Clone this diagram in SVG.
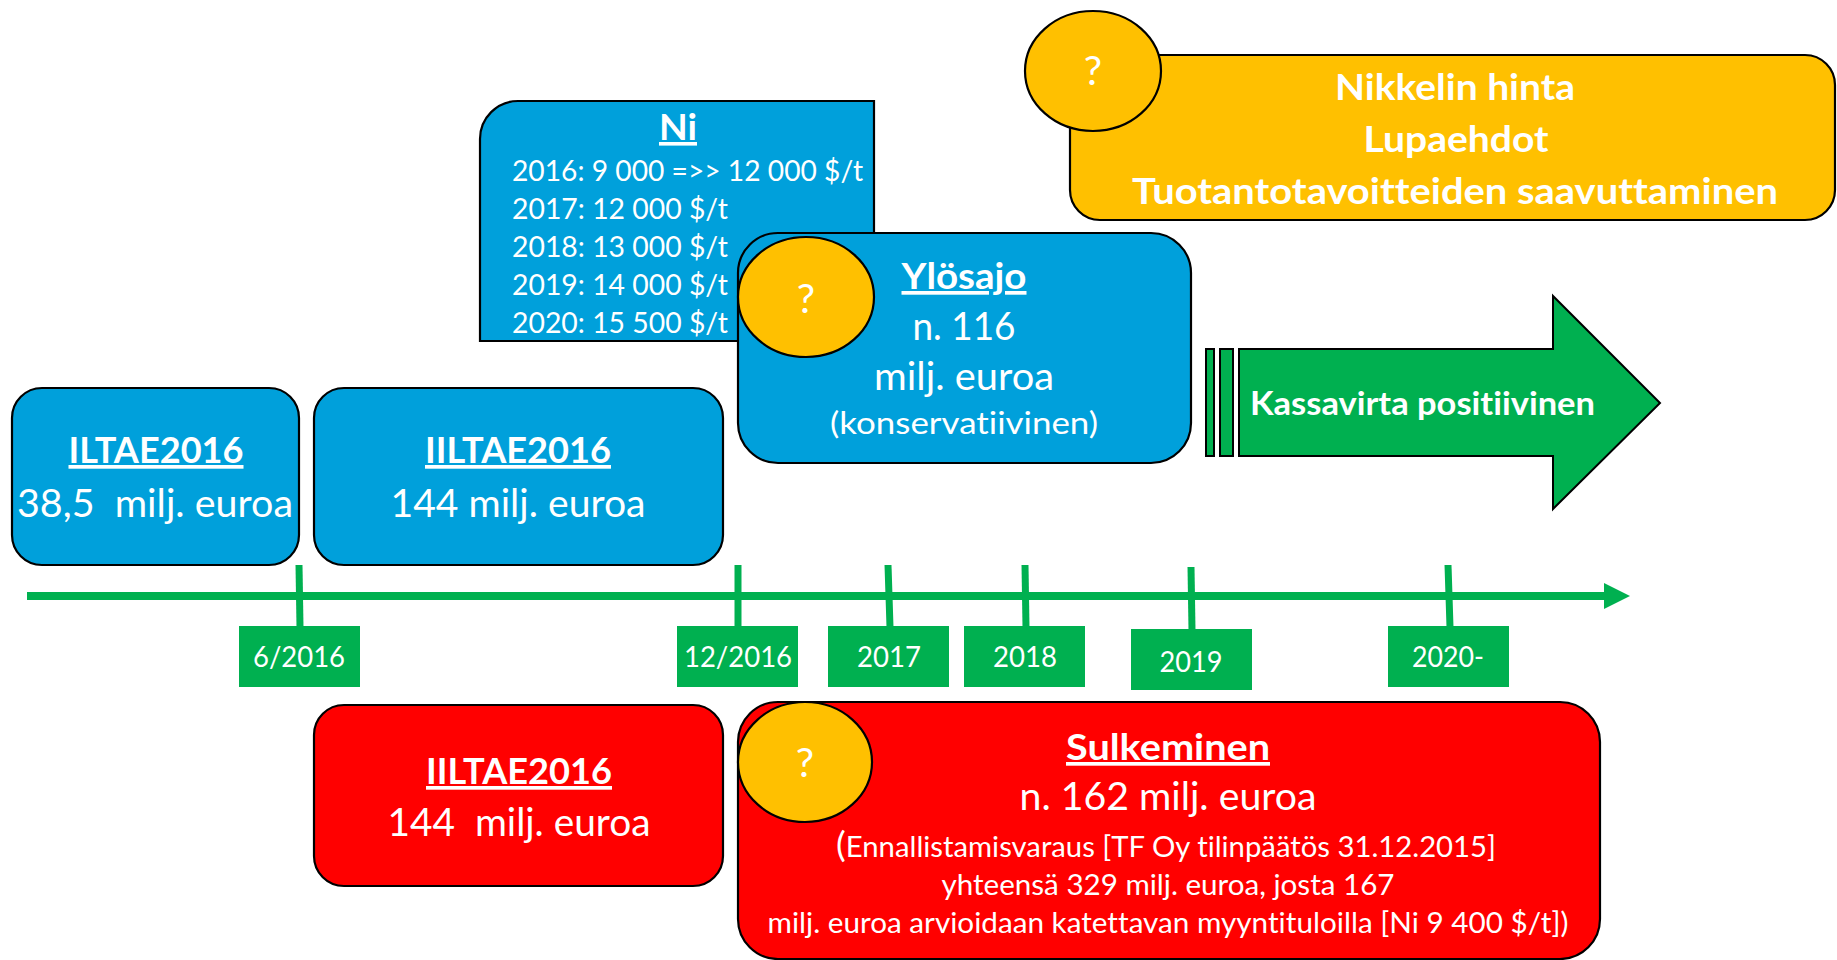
<svg xmlns="http://www.w3.org/2000/svg" width="1837" height="960" viewBox="0 0 1837 960">
<style>
text{font-family:Lato,"Open Sans","Liberation Sans",sans-serif;fill:#fff;font-variant-ligatures:none;font-feature-settings:"liga" 0,"clig" 0,"dlig" 0,"calt" 0}
.b{font-weight:bold}
.u{text-decoration:underline}
.m{text-anchor:middle}
.blue{fill:#00A0DB;stroke:#000;stroke-width:2.2}
.red{fill:#FF0000;stroke:#000;stroke-width:2.2}
.yel{fill:#FFC000;stroke:#000;stroke-width:2.2}
.grn{fill:#00B050;stroke:#000;stroke-width:2}
.lbl{fill:#00B050}
.tick{stroke:#00B050;stroke-width:7;fill:none}
</style>
<rect width="1837" height="960" fill="#fff"/>

<g id="connectors">
  <line x1="27" y1="596" x2="1606" y2="596" stroke="#00B050" stroke-width="8"/>
  <polygon points="1604,583 1630,596 1604,609" fill="#00B050"/>
  <line class="tick" x1="299" y1="565" x2="300" y2="627"/>
  <line class="tick" x1="738" y1="565" x2="738" y2="627"/>
  <line class="tick" x1="888" y1="565" x2="890" y2="627"/>
  <line class="tick" x1="1025" y1="565" x2="1026" y2="627"/>
  <line class="tick" x1="1191" y1="567" x2="1192" y2="630"/>
  <line class="tick" x1="1448" y1="565" x2="1450" y2="627"/>
</g>

<g id="lbl-6-2016"><rect class="lbl" x="239" y="626" width="121" height="61"/><text class="m" x="299" y="667" font-size="29" textLength="92" lengthAdjust="spacingAndGlyphs">6/2016</text></g>
<g id="lbl-12-2016"><rect class="lbl" x="677" y="626" width="121" height="61"/><text class="m" x="738" y="667" font-size="29" textLength="108" lengthAdjust="spacingAndGlyphs">12/2016</text></g>
<g id="lbl-2017"><rect class="lbl" x="828" y="626" width="121" height="61"/><text class="m" x="889" y="667" font-size="29" textLength="64" lengthAdjust="spacingAndGlyphs">2017</text></g>
<g id="lbl-2018"><rect class="lbl" x="964" y="626" width="121" height="61"/><text class="m" x="1025" y="667" font-size="29" textLength="64" lengthAdjust="spacingAndGlyphs">2018</text></g>
<g id="lbl-2019"><rect class="lbl" x="1131" y="629" width="121" height="61"/><text class="m" x="1191" y="672" font-size="29" textLength="63" lengthAdjust="spacingAndGlyphs">2019</text></g>
<g id="lbl-2020"><rect class="lbl" x="1388" y="626" width="121" height="61"/><text class="m" x="1448" y="667" font-size="29" textLength="72" lengthAdjust="spacingAndGlyphs">2020-</text></g>

<g id="risk-box">
  <rect class="yel" x="1070" y="55" width="765" height="165" rx="30"/>
  <text class="b m" x="1455" y="100" font-size="36" textLength="240" lengthAdjust="spacingAndGlyphs">Nikkelin hinta</text>
  <text class="b m" x="1456" y="152" font-size="36" textLength="185" lengthAdjust="spacingAndGlyphs">Lupaehdot</text>
  <text class="b m" x="1455" y="204" font-size="36" textLength="646" lengthAdjust="spacingAndGlyphs">Tuotantotavoitteiden saavuttaminen</text>
</g>
<g id="risk-q">
  <ellipse class="yel" cx="1093" cy="71" rx="68" ry="60"/>
  <text class="m" x="1093" y="85" font-size="41">?</text>
</g>

<g id="ni-box">
  <path class="blue" d="M480,341 L480,139 A38,38 0 0 1 518,101 L874,101 L874,341 Z"/>
  <text class="b m u" x="678" y="140" font-size="36" textLength="38" lengthAdjust="spacingAndGlyphs">Ni</text>
  <text x="512" y="181" font-size="28" textLength="351" lengthAdjust="spacingAndGlyphs">2016: 9 000 =&gt;&gt; 12 000 $/t</text>
  <text x="512" y="219" font-size="28" textLength="216" lengthAdjust="spacingAndGlyphs">2017: 12 000 $/t</text>
  <text x="512" y="257" font-size="28" textLength="216" lengthAdjust="spacingAndGlyphs">2018: 13 000 $/t</text>
  <text x="512" y="295" font-size="28" textLength="216" lengthAdjust="spacingAndGlyphs">2019: 14 000 $/t</text>
  <text x="512" y="333" font-size="28" textLength="216" lengthAdjust="spacingAndGlyphs">2020: 15 500 $/t</text>
</g>

<g id="ylosajo">
  <rect class="blue" x="738" y="233" width="453" height="230" rx="40"/>
  <text class="b m u" x="964" y="289" font-size="37" textLength="125" lengthAdjust="spacingAndGlyphs">Ylösajo</text>
  <text class="m" x="964" y="340" font-size="38" textLength="103" lengthAdjust="spacingAndGlyphs">n. 116</text>
  <text class="m" x="964" y="390" font-size="38" textLength="180" lengthAdjust="spacingAndGlyphs">milj. euroa</text>
  <text class="m" x="964" y="434" font-size="31" textLength="268" lengthAdjust="spacingAndGlyphs">(konservatiivinen)</text>
</g>
<g id="ylosajo-q">
  <ellipse class="yel" cx="806" cy="297" rx="68" ry="60"/>
  <text class="m" x="806" y="313" font-size="41">?</text>
</g>

<g id="kassavirta">
  <rect class="grn" x="1206" y="349" width="8" height="107"/>
  <rect class="grn" x="1220" y="349" width="13" height="107"/>
  <polygon class="grn" points="1239,349 1553,349 1553,296 1660,403 1553,509 1553,456 1239,456"/>
  <text class="b" x="1250" y="415" font-size="32" textLength="345" lengthAdjust="spacingAndGlyphs">Kassavirta positiivinen</text>
</g>

<g id="iltae">
  <rect class="blue" x="12" y="388" width="287" height="177" rx="30"/>
  <text class="b m u" x="156" y="463" font-size="37" textLength="175" lengthAdjust="spacingAndGlyphs">ILTAE2016</text>
  <text class="m" x="155" y="517" font-size="38" textLength="276" lengthAdjust="spacingAndGlyphs" xml:space="preserve">38,5  milj. euroa</text>
</g>

<g id="iiltae-blue">
  <rect class="blue" x="314" y="388" width="409" height="177" rx="30"/>
  <text class="b m u" x="518" y="463" font-size="37" textLength="186" lengthAdjust="spacingAndGlyphs">IILTAE2016</text>
  <text class="m" x="518" y="517" font-size="38" textLength="255" lengthAdjust="spacingAndGlyphs">144 milj. euroa</text>
</g>

<g id="iiltae-red">
  <rect class="red" x="314" y="705" width="409" height="181" rx="30"/>
  <text class="b m u" x="519" y="784" font-size="37" textLength="186" lengthAdjust="spacingAndGlyphs">IILTAE2016</text>
  <text class="m" x="519" y="836" font-size="38" textLength="263" lengthAdjust="spacingAndGlyphs" xml:space="preserve">144  milj. euroa</text>
</g>

<g id="sulkeminen">
  <rect class="red" x="738" y="702" width="862" height="257" rx="40"/>
  <text class="b m u" x="1168" y="760" font-size="37" textLength="204" lengthAdjust="spacingAndGlyphs">Sulkeminen</text>
  <text class="m" x="1168" y="810" font-size="38" textLength="297" lengthAdjust="spacingAndGlyphs">n. 162 milj. euroa</text>
  <text class="m" x="1166" y="857" font-size="28" textLength="660" lengthAdjust="spacingAndGlyphs"><tspan font-size="35">(</tspan>Ennallistamisvaraus [TF Oy tilinpäätös 31.12.2015]</text>
  <text class="m" x="1168" y="895" font-size="28" textLength="453" lengthAdjust="spacingAndGlyphs">yhteensä 329 milj. euroa, josta 167</text>
  <text class="m" x="1168" y="933" font-size="28" textLength="801" lengthAdjust="spacingAndGlyphs">milj. euroa arvioidaan katettavan myyntituloilla [Ni 9 400 $/t])</text>
</g>
<g id="sulkeminen-q">
  <ellipse class="yel" cx="805" cy="762" rx="67" ry="60"/>
  <text class="m" x="805" y="777" font-size="41">?</text>
</g>
</svg>
